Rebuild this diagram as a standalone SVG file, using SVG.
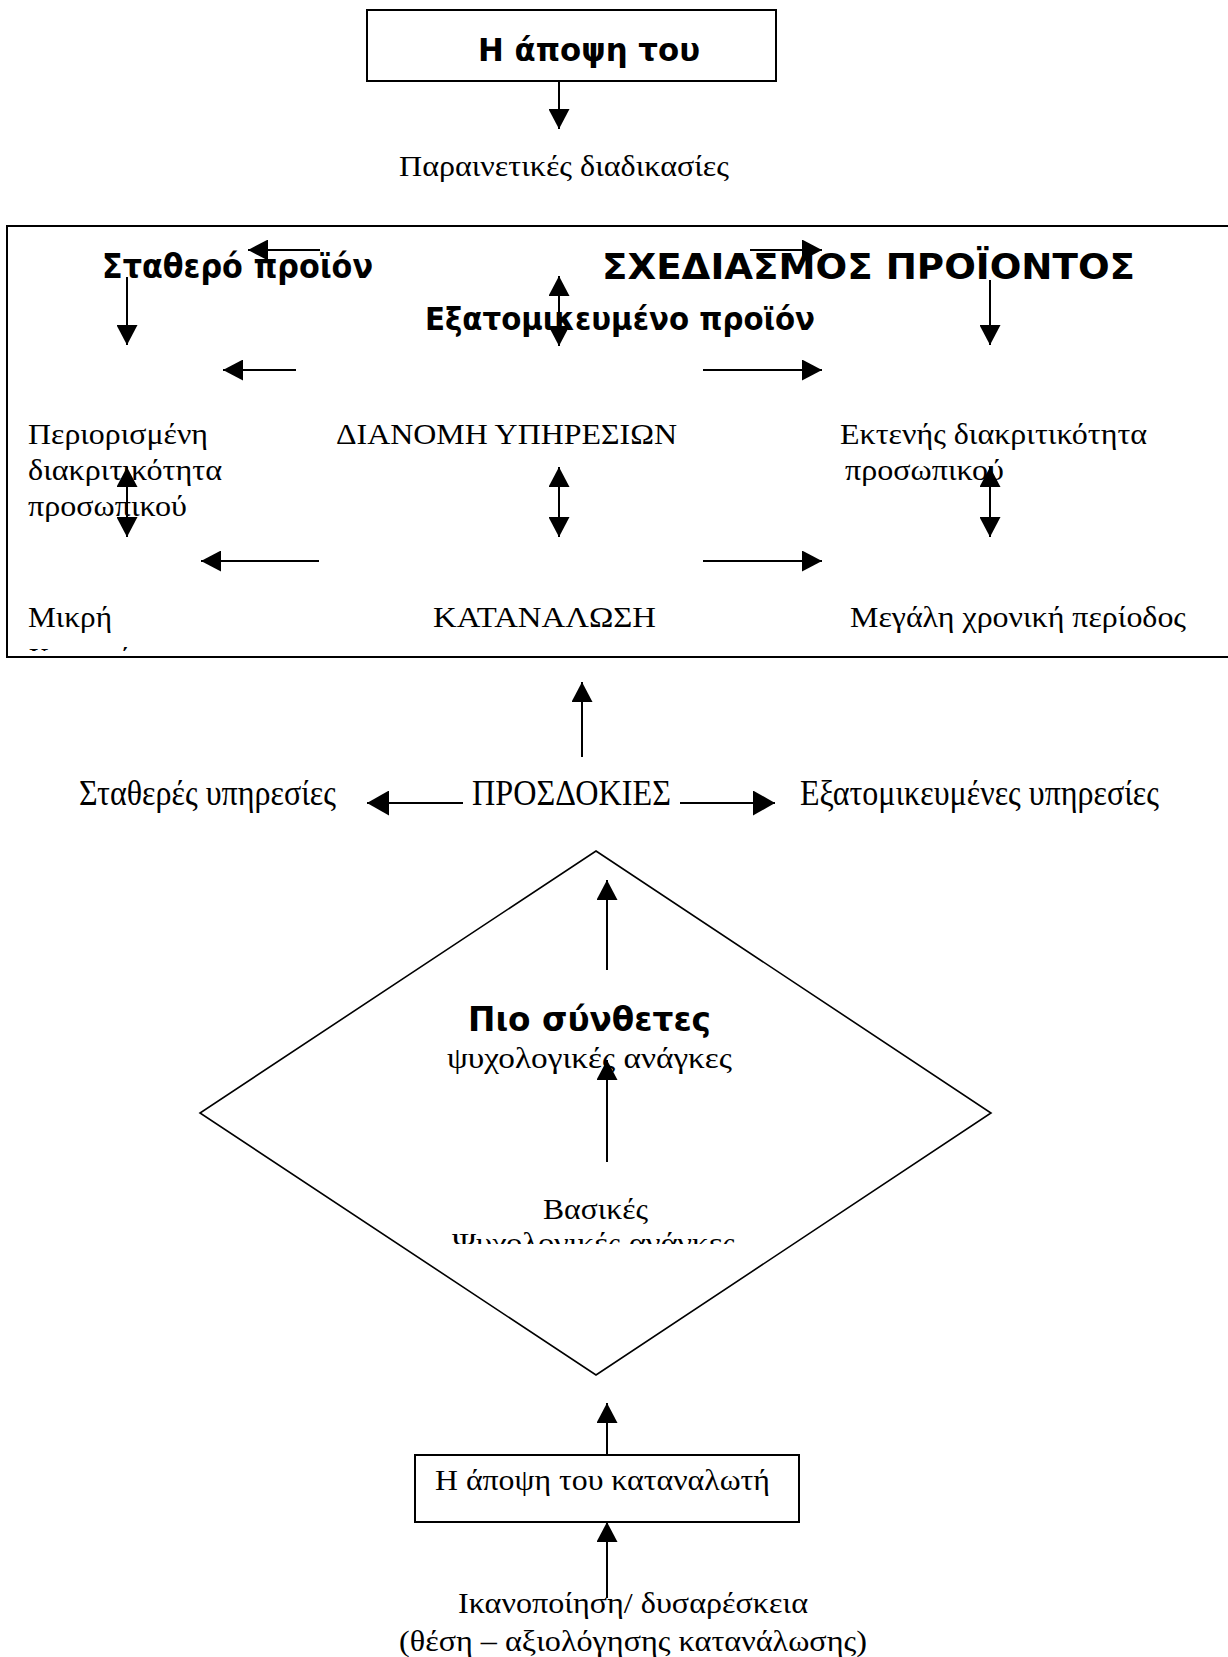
<svg xmlns="http://www.w3.org/2000/svg" width="1228" height="1657" viewBox="0 0 1228 1657">
  <style>
    .t { font-family: "Liberation Serif", "Times New Roman", serif; font-size: 30px; fill: #000; }
    .tall { font-family: "Liberation Serif", "Times New Roman", serif; font-size: 35px; fill: #000; }
    .b { font-family: "DejaVu Sans", "Liberation Sans", sans-serif; font-weight: bold; fill: #000; }
    .box { fill: #fff; stroke: #000; stroke-width: 2; }
    .ln { fill: none; stroke: #000; stroke-width: 2; }
    .one { marker-end: url(#ah); }
    .two { marker-start: url(#ah); marker-end: url(#ah); }
    .wide { marker-end: url(#ah2); }
  </style>
  <defs>
    <marker id="ah" viewBox="0 0 20 21" refX="20" refY="10.5" markerWidth="20" markerHeight="21" markerUnits="userSpaceOnUse" orient="auto-start-reverse">
      <path d="M0,0 L20,10.5 L0,21 z" fill="#000"/>
    </marker>
    <marker id="ah2" viewBox="0 0 22 25" refX="22" refY="12.5" markerWidth="22" markerHeight="25" markerUnits="userSpaceOnUse" orient="auto-start-reverse">
      <path d="M0,0 L22,12.5 L0,25 z" fill="#000"/>
    </marker>
    <clipPath id="clipMain"><rect x="0" y="226" width="1228" height="425"/></clipPath>
    <clipPath id="clipBasic"><rect x="0" y="1190" width="1228" height="54"/></clipPath>
  </defs>

  <rect width="1228" height="1657" fill="#fff"/>

  <!-- top: the producer's view -->
  <g id="producer-view">
    <rect class="box" x="367" y="10" width="409" height="71"/>
    <text class="b" x="478" y="61" font-size="32" textLength="222" lengthAdjust="spacingAndGlyphs">Η άποψη του</text>
  </g>
  <g id="advisory">
    <text class="t" x="399" y="176" textLength="330" lengthAdjust="spacingAndGlyphs">Παραινετικές διαδικασίες</text>
  </g>

  <!-- product design frame -->
  <g id="design-frame">
    <rect class="box" x="7" y="226" width="1230" height="431"/>
  </g>
  <g id="fixed-product">
    <text class="b" x="102" y="278" font-size="34" textLength="271" lengthAdjust="spacingAndGlyphs">Σταθερό προϊόν</text>
  </g>
  <g id="product-design">
    <text class="b" x="602" y="279" font-size="36" textLength="533" lengthAdjust="spacingAndGlyphs">ΣΧΕΔΙΑΣΜΟΣ ΠΡΟΪΟΝΤΟΣ</text>
  </g>
  <g id="custom-product">
    <text class="b" x="425" y="330" font-size="32" textLength="390" lengthAdjust="spacingAndGlyphs">Εξατομικευμένο προϊόν</text>
  </g>
  <g id="limited-discretion">
    <text class="t" x="28" y="444" textLength="180" lengthAdjust="spacingAndGlyphs">Περιορισμένη</text>
    <text class="t" x="28" y="480" textLength="194" lengthAdjust="spacingAndGlyphs">διακριτικότητα</text>
    <text class="t" x="28" y="516" textLength="159" lengthAdjust="spacingAndGlyphs">προσωπικού</text>
  </g>
  <g id="service-delivery">
    <text class="t" x="336" y="444" textLength="341" lengthAdjust="spacingAndGlyphs">ΔΙΑΝΟΜΗ ΥΠΗΡΕΣΙΩΝ</text>
  </g>
  <g id="extensive-discretion">
    <text class="t" x="840" y="444" textLength="307" lengthAdjust="spacingAndGlyphs">Εκτενής διακριτικότητα</text>
    <text class="t" x="845" y="480" textLength="159" lengthAdjust="spacingAndGlyphs">προσωπικού</text>
  </g>
  <g id="short-time" clip-path="url(#clipMain)">
    <text class="t" x="28" y="627" textLength="84" lengthAdjust="spacingAndGlyphs">Μικρή</text>
    <text class="t" x="28" y="668">Χρονική</text>
  </g>
  <g id="consumption">
    <text class="t" x="433" y="627" textLength="223" lengthAdjust="spacingAndGlyphs">ΚΑΤΑΝΑΛΩΣΗ</text>
  </g>
  <g id="long-time">
    <text class="t" x="850" y="627" textLength="336" lengthAdjust="spacingAndGlyphs">Μεγάλη χρονική περίοδος</text>
  </g>

  <!-- expectations row -->
  <g id="fixed-services">
    <text class="tall" x="79" y="805" textLength="257" lengthAdjust="spacingAndGlyphs">Σταθερές υπηρεσίες</text>
  </g>
  <g id="expectations">
    <text class="tall" x="472" y="805" textLength="199" lengthAdjust="spacingAndGlyphs">ΠΡΟΣΔΟΚΙΕΣ</text>
  </g>
  <g id="custom-services">
    <text class="tall" x="800" y="805" textLength="359" lengthAdjust="spacingAndGlyphs">Εξατομικευμένες υπηρεσίες</text>
  </g>

  <!-- needs diamond -->
  <g id="needs">
    <polygon points="596,851 991,1113 596,1375 200,1113" fill="none" stroke="#000" stroke-width="1.6"/>
    <text class="b" x="468" y="1031" font-size="34" textLength="243" lengthAdjust="spacingAndGlyphs">Πιο σύνθετες</text>
    <text class="t" x="447" y="1068" textLength="285" lengthAdjust="spacingAndGlyphs">ψυχολογικές ανάγκες</text>
    <text class="t" x="543" y="1219" textLength="105" lengthAdjust="spacingAndGlyphs">Βασικές</text>
    <text class="t" x="452" y="1253" textLength="283" lengthAdjust="spacingAndGlyphs" clip-path="url(#clipBasic)">Ψυχολογικές ανάγκες</text>
  </g>

  <!-- bottom: the consumer's view -->
  <g id="consumer-view">
    <rect class="box" x="415" y="1455" width="384" height="67"/>
    <text class="t" x="435" y="1490" textLength="335" lengthAdjust="spacingAndGlyphs">Η άποψη του καταναλωτή</text>
  </g>
  <g id="satisfaction">
    <text class="t" x="458" y="1613" textLength="350" lengthAdjust="spacingAndGlyphs">Ικανοποίηση/ δυσαρέσκεια</text>
    <text class="t" x="399" y="1651" textLength="468" lengthAdjust="spacingAndGlyphs">(θέση – αξιολόγησης κατανάλωσης)</text>
  </g>

  <!-- connectors -->
  <g id="connectors">
    <line class="ln one" x1="559" y1="81" x2="559" y2="129"/>

    <line class="ln one" x1="320" y1="250" x2="248" y2="250"/>
    <line class="ln one" x1="750" y1="250" x2="822" y2="250"/>
    <line class="ln one" x1="127" y1="277" x2="127" y2="345"/>
    <line class="ln one" x1="990" y1="280" x2="990" y2="345"/>
    <line class="ln two" x1="559" y1="276" x2="559" y2="346"/>
    <line class="ln one" x1="296" y1="370" x2="223" y2="370"/>
    <line class="ln one" x1="703" y1="370" x2="822" y2="370"/>

    <line class="ln two" x1="127" y1="467" x2="127" y2="537"/>
    <line class="ln two" x1="559" y1="467" x2="559" y2="537"/>
    <line class="ln two" x1="990" y1="467" x2="990" y2="537"/>
    <line class="ln one" x1="319" y1="561" x2="201" y2="561"/>
    <line class="ln one" x1="703" y1="561" x2="822" y2="561"/>

    <line class="ln one" x1="582" y1="757" x2="582" y2="682"/>
    <line class="ln wide" x1="463" y1="803" x2="367" y2="803"/>
    <line class="ln wide" x1="680" y1="803" x2="775" y2="803"/>

    <line class="ln one" x1="607" y1="970" x2="607" y2="880"/>
    <line class="ln one" x1="607" y1="1162" x2="607" y2="1060"/>

    <line class="ln one" x1="607" y1="1455" x2="607" y2="1403"/>
    <line class="ln one" x1="607" y1="1598" x2="607" y2="1522"/>
  </g>
</svg>
